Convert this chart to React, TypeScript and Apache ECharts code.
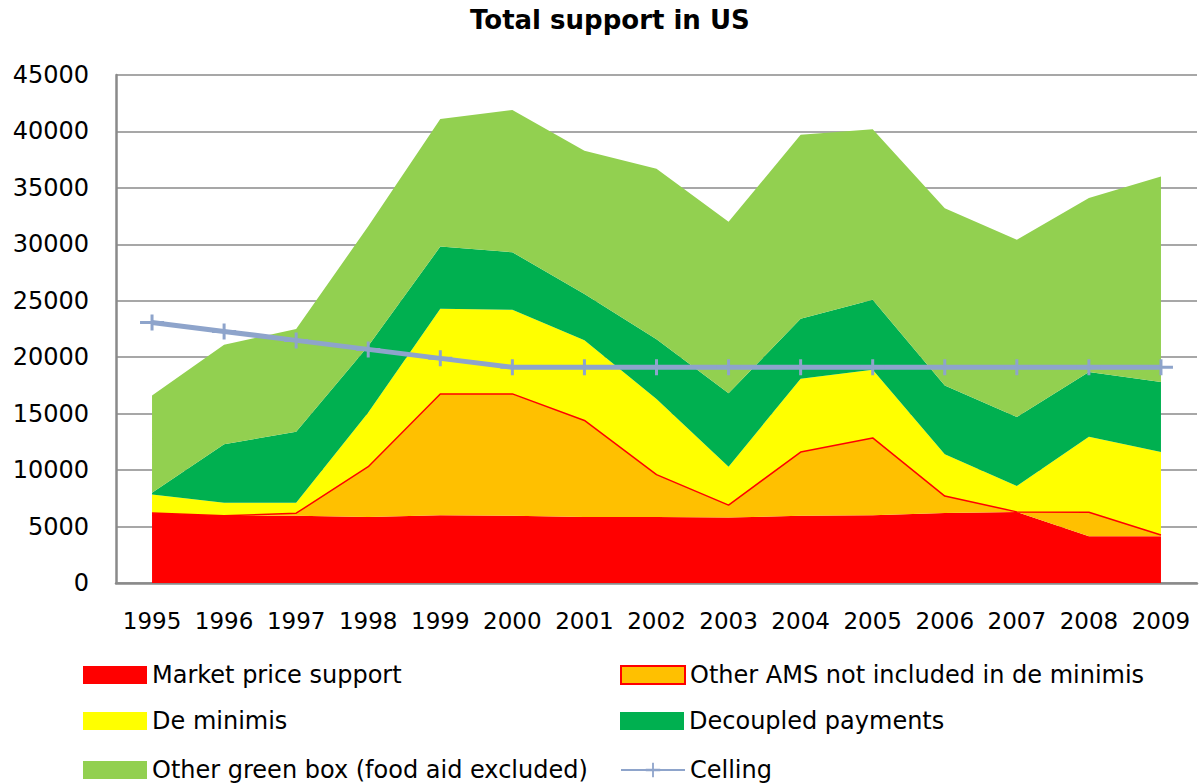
import React, { useEffect, useRef } from "react";
import * as echarts from "echarts";

const years = ["1995", "1996", "1997", "1998", "1999", "2000", "2001", "2002", "2003", "2004", "2005", "2006", "2007", "2008", "2009"];
const marketPriceSupport = [6200, 5950, 5950, 5850, 6000, 5950, 5850, 5850, 5800, 5950, 6000, 6200, 6300, 4150, 4150];
const otherAMS = [0, 0, 230, 4450, 10750, 10800, 8550, 3750, 1100, 5650, 6850, 1500, 0, 2120, 100];
const deMinimis = [1650, 1150, 920, 4800, 7550, 7450, 7100, 6700, 3400, 6500, 6050, 3700, 2300, 6680, 7350];
const decoupled = [150, 5200, 6300, 5900, 5500, 5100, 4100, 5300, 6500, 5300, 6200, 6100, 6100, 5750, 6200];
const otherGreenBox = [8600, 8800, 9100, 10600, 11300, 12600, 12700, 15100, 15200, 16300, 15100, 15700, 15700, 15400, 18200];
const celling = [23083, 22287, 21491, 20695, 19899, 19103, 19103, 19103, 19103, 19103, 19103, 19103, 19103, 19103, 19103];

const FONT = "DejaVu Sans";
const GRAY = "#8a8a8a";
const PLUS = "path://M-12,-1.5 L12,-1.5 L12,1.5 L-12,1.5 Z M-1.5,-8 L1.5,-8 L1.5,8 L-1.5,8 Z";

export default function App() {
  const ref = useRef<HTMLDivElement>(null);
  useEffect(() => {
    if (!ref.current) return;
    const chart = echarts.init(ref.current, null, { renderer: "svg" });

    const area = (name: string, data: number[], color: string, line?: any) => ({
      name,
      type: "line",
      stack: "total",
      data,
      showSymbol: false,
      symbol: "none",
      itemStyle: { color },
      lineStyle: line || { width: 0, color },
      areaStyle: { color, opacity: 1 },
      emphasis: { disabled: true },
    });

    const legendText = { fontFamily: FONT, fontSize: 24, color: "#000", lineHeight: 24 };
    const mkLegend = (name: string, left: number, center: number, extra: any = {}) => ({
      data: [{ name, ...extra }],
      left,
      top: center - 12,
      padding: 0,
      itemWidth: 64,
      itemHeight: 18,
      textStyle: legendText,
      selectedMode: false,
    });

    chart.setOption({
      animation: false,
      title: {
        text: "Total support in US",
        left: 470,
        top: 7,
        padding: 0,
        textStyle: { fontFamily: FONT, fontSize: 26, fontWeight: "bold", color: "#000" },
      },
      grid: { left: 116, right: 4, top: 75, bottom: 201, containLabel: false },
      xAxis: {
        type: "category",
        data: years,
        boundaryGap: true,
        axisLine: { lineStyle: { color: GRAY, width: 2.5 } },
        axisTick: { show: false },
        axisLabel: { fontFamily: FONT, fontSize: 23, color: "#000", margin: 26, interval: 0 },
        splitLine: { show: false },
      },
      yAxis: {
        type: "value",
        min: 0,
        max: 45000,
        interval: 5000,
        axisLine: { show: true, lineStyle: { color: GRAY, width: 2.5 } },
        axisTick: { show: false },
        axisLabel: {
          fontFamily: FONT,
          fontSize: 24,
          color: "#000",
          margin: 27,
          formatter: (v: number) => String(v),
        },
        splitLine: { show: true, lineStyle: { color: GRAY, width: 1.5 } },
      },
      legend: [
        mkLegend("Market price support", 83, 675, { icon: "rect", itemStyle: { borderWidth: 0 } }),
        mkLegend("De minimis", 83, 721, { icon: "rect", itemStyle: { borderWidth: 0 } }),
        mkLegend("Other green box (food aid excluded)", 83, 770, { icon: "rect", itemStyle: { borderWidth: 0 } }),
        mkLegend("Other AMS not included in de minimis", 620, 675, {
          icon: "rect",
          itemStyle: { borderColor: "#FF0000", borderWidth: 2 },
        }),
        mkLegend("Decoupled payments", 620, 721, { icon: "rect", itemStyle: { borderWidth: 0 } }),
        mkLegend("Celling", 620, 770),
      ],
      series: [
        area("Market price support", marketPriceSupport, "#FF0000"),
        area("Other AMS not included in de minimis", otherAMS, "#FFC000", { width: 1.5, color: "#FF0000" }),
        area("De minimis", deMinimis, "#FFFF00"),
        area("Decoupled payments", decoupled, "#00B050"),
        area("Other green box (food aid excluded)", otherGreenBox, "#92D050"),
        {
          name: "Celling",
          type: "line",
          data: celling,
          symbol: PLUS,
          symbolSize: [24, 16],
          showSymbol: true,
          itemStyle: { color: "#8EA4CB" },
          lineStyle: { color: "#8EA4CB", width: 5 },
          emphasis: { disabled: true },
          z: 5,
        },
      ],
    });
    return () => chart.dispose();
  }, []);

  return (
    <div
      ref={ref}
      style={{ position: "absolute", left: 0, top: 0, width: 1201, height: 784, background: "#fff" }}
    />
  );
}
